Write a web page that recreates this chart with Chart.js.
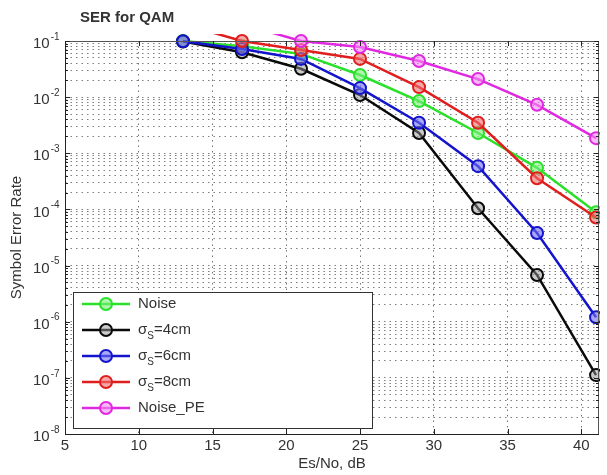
<!DOCTYPE html>
<html>
<head>
<meta charset="utf-8">
<script src="https://cdn.jsdelivr.net/npm/chart.js@4.4.0/dist/chart.umd.min.js"></script>
<style>
  html, body { margin: 0; padding: 0; background: #fff; }
  #wrap { width: 607px; height: 475px; }
</style>
</head>
<body>
<div id="wrap"><canvas id="serChart" width="607" height="475"></canvas></div>
<script>
"use strict";

// Es/No points (dB) and SER values
const esNo = [13, 17, 21, 25, 29, 33, 37, 41];
const serNoise = [0.1, 0.081, 0.059, 0.0248, 0.0085, 0.0023, 5.5e-4, 8.9e-5];
const serS4 = [0.098, 0.063, 0.032, 0.0109, 0.0023, 1.05e-4, 6.8e-6, 1.12e-7];
const serS6 = [0.099, 0.072, 0.048, 0.0145, 0.0035, 5.9e-4, 3.8e-5, 1.2e-6];
const serS8 = [0.2, 0.1, 0.069, 0.048, 0.0151, 0.0035, 3.6e-4, 7.2e-5];
const serPE = [0.3, 0.2, 0.1, 0.078, 0.044, 0.021, 0.0073, 0.00186];

const seriesLabels = ["Noise", "σ_{S}=4cm", "σ_{S}=6cm", "σ_{S}=8cm", "Noise_PE"];
const xTicks = [5, 10, 15, 20, 25, 30, 35, 40];
const yDecades = [-1, -2, -3, -4, -5, -6, -7, -8];

const FONT = "'Liberation Sans', Arial, Helvetica, sans-serif";

function makeSet(label, values, color, fill, order) {
  return {
    label: label,
    data: esNo.map((x, i) => ({ x: x, y: values[i] })),
    borderColor: color,
    backgroundColor: fill,
    pointBackgroundColor: fill,
    pointBorderColor: color,
    borderWidth: 2.5,
    pointRadius: 6,
    pointHoverRadius: 6,
    pointBorderWidth: 2,
    tension: 0,
    order: order,
    clip: { left: 8, top: 7, right: 1, bottom: 8 },
  };
}

const datasets = [
  makeSet(seriesLabels[0], serNoise, "rgb(40,225,40)", "rgba(120,240,120,0.6)", 5),
  makeSet(seriesLabels[1], serS4, "rgb(10,10,10)", "rgba(150,150,150,0.5)", 4),
  makeSet(seriesLabels[2], serS6, "rgb(20,20,205)", "rgba(110,110,240,0.6)", 3),
  makeSet(seriesLabels[3], serS8, "rgb(225,30,30)", "rgba(240,110,110,0.6)", 2),
  makeSet(seriesLabels[4], serPE, "rgb(225,40,225)", "rgba(245,140,245,0.6)", 1),
];

// text with _{..} subscripts
function drawRichText(ctx, text, x, y) {
  const re = /_\{([^}]*)\}/g;
  let last = 0, m, cx = x;
  while ((m = re.exec(text))) {
    const before = text.slice(last, m.index);
    ctx.font = "15px " + FONT;
    ctx.fillText(before, cx, y);
    cx += ctx.measureText(before).width;
    ctx.font = "10px " + FONT;
    ctx.fillText(m[1], cx, y + 6);
    cx += ctx.measureText(m[1]).width;
    last = re.lastIndex;
  }
  ctx.font = "15px " + FONT;
  ctx.fillText(text.slice(last), cx, y);
}

const matlabLook = {
  id: "matlabLook",
  afterDraw(chart) {
    const ctx = chart.ctx;
    const area = chart.chartArea;
    const xs = chart.scales.x;
    const ys = chart.scales.y;
    ctx.save();

    // axes box
    ctx.strokeStyle = "#555";
    ctx.lineWidth = 1;
    ctx.strokeRect(area.left + 0.5, area.top + 0.5, area.right - area.left - 1, area.bottom - area.top);
    ctx.strokeStyle = "#222";
    ctx.beginPath();
    ctx.moveTo(area.left + 0.5, area.top);
    ctx.lineTo(area.left + 0.5, area.bottom + 0.5);
    ctx.lineTo(area.right, area.bottom + 0.5);
    ctx.stroke();

    // inward tick marks
    ctx.beginPath();
    xTicks.forEach((v) => {
      const px = Math.round(xs.getPixelForValue(v)) + 0.5;
      ctx.moveTo(px, area.bottom); ctx.lineTo(px, area.bottom - 5);
      ctx.moveTo(px, area.top); ctx.lineTo(px, area.top + 5);
    });
    yDecades.forEach((p) => {
      for (let k = 1; k <= 9; k++) {
        const v = k * Math.pow(10, p - (k > 1 ? 1 : 0));
        if (v < 1e-8) continue;
        const py = Math.round(ys.getPixelForValue(v)) + 0.5;
        const len = k === 1 ? 5 : 3;
        ctx.moveTo(area.left, py); ctx.lineTo(area.left + len, py);
        ctx.moveTo(area.right, py); ctx.lineTo(area.right - len, py);
      }
    });
    ctx.stroke();

    // y tick labels 10^n
    ctx.fillStyle = "#333";
    ctx.textBaseline = "middle";
    ctx.textAlign = "left";
    yDecades.forEach((p) => {
      const py = ys.getPixelForValue(Math.pow(10, p));
      ctx.font = "15px " + FONT;
      ctx.fillText("10", 33, py + 3);
      const w = ctx.measureText("10").width;
      ctx.font = "10px " + FONT;
      ctx.fillText(String(p), 33 + w + 1, py - 4);
    });

    // title
    ctx.font = "bold 15px " + FONT;
    ctx.fillStyle = "#333";
    ctx.fillText("SER for QAM", 80, 18);

    // legend box
    const lx = 73, ly = 292, lw = 299, lh = 136;
    ctx.fillStyle = "#fff";
    ctx.fillRect(lx, ly, lw, lh);
    ctx.strokeStyle = "#333";
    ctx.lineWidth = 1;
    ctx.strokeRect(lx + 0.5, ly + 0.5, lw, lh);
    datasets.forEach((ds, i) => {
      const ry = 304 + i * 26;
      ctx.strokeStyle = ds.borderColor;
      ctx.lineWidth = 2.5;
      ctx.beginPath();
      ctx.moveTo(82, ry); ctx.lineTo(130, ry);
      ctx.stroke();
      ctx.beginPath();
      ctx.arc(106, ry, 6, 0, Math.PI * 2);
      ctx.fillStyle = ds.pointBackgroundColor;
      ctx.fill();
      ctx.lineWidth = 2;
      ctx.stroke();
      ctx.fillStyle = "#333";
      ctx.textBaseline = "middle";
      drawRichText(ctx, ds.label, 138, ry);
    });
    ctx.restore();
  },
};

const dotted = [1.5, 4];

new Chart(document.getElementById("serChart"), {
  type: "line",
  data: { datasets: datasets },
  options: {
    responsive: false,
    animation: false,
    devicePixelRatio: 1,
    layout: { padding: { top: 41, right: 3, left: 0, bottom: 0 } },
    plugins: { legend: { display: false }, tooltip: { enabled: false } },
    scales: {
      x: {
        type: "linear",
        min: 5,
        max: 41.2,
        afterBuildTicks: (scale) => {
          scale.ticks = xTicks.map((v) => ({ value: v }));
        },
        afterFit: (scale) => { scale.height = 41; },
        ticks: {
          font: { size: 15, family: FONT },
          color: "#333",
          padding: 3,
          maxRotation: 0,
        },
        grid: { color: "rgba(0,0,0,0.55)", lineWidth: 1, drawTicks: false },
        border: { display: false, dash: dotted },
        title: {
          display: true,
          text: "Es/No, dB",
          font: { size: 15, family: FONT },
          color: "#333",
          padding: { top: 0, bottom: 2 },
        },
      },
      y: {
        type: "logarithmic",
        min: 1e-8,
        max: 1e-1,
        afterBuildTicks: (scale) => {
          const t = [];
          for (let p = -8; p < -1; p++) {
            for (let k = 1; k <= 9; k++) t.push({ value: k * Math.pow(10, p) });
          }
          t.push({ value: 0.1 });
          scale.ticks = t;
        },
        afterFit: (scale) => { scale.width = 65; },
        ticks: { display: false },
        grid: {
          color: "rgba(0,0,0,0.5)",
          lineWidth: 1,
          drawTicks: false,
        },
        border: { display: false, dash: dotted },
        title: {
          display: true,
          text: "Symbol Error Rate",
          font: { size: 15, family: FONT },
          color: "#333",
          padding: { top: 8, bottom: 0 },
        },
      },
    },
  },
  plugins: [matlabLook],
});
</script>
</body>
</html>
